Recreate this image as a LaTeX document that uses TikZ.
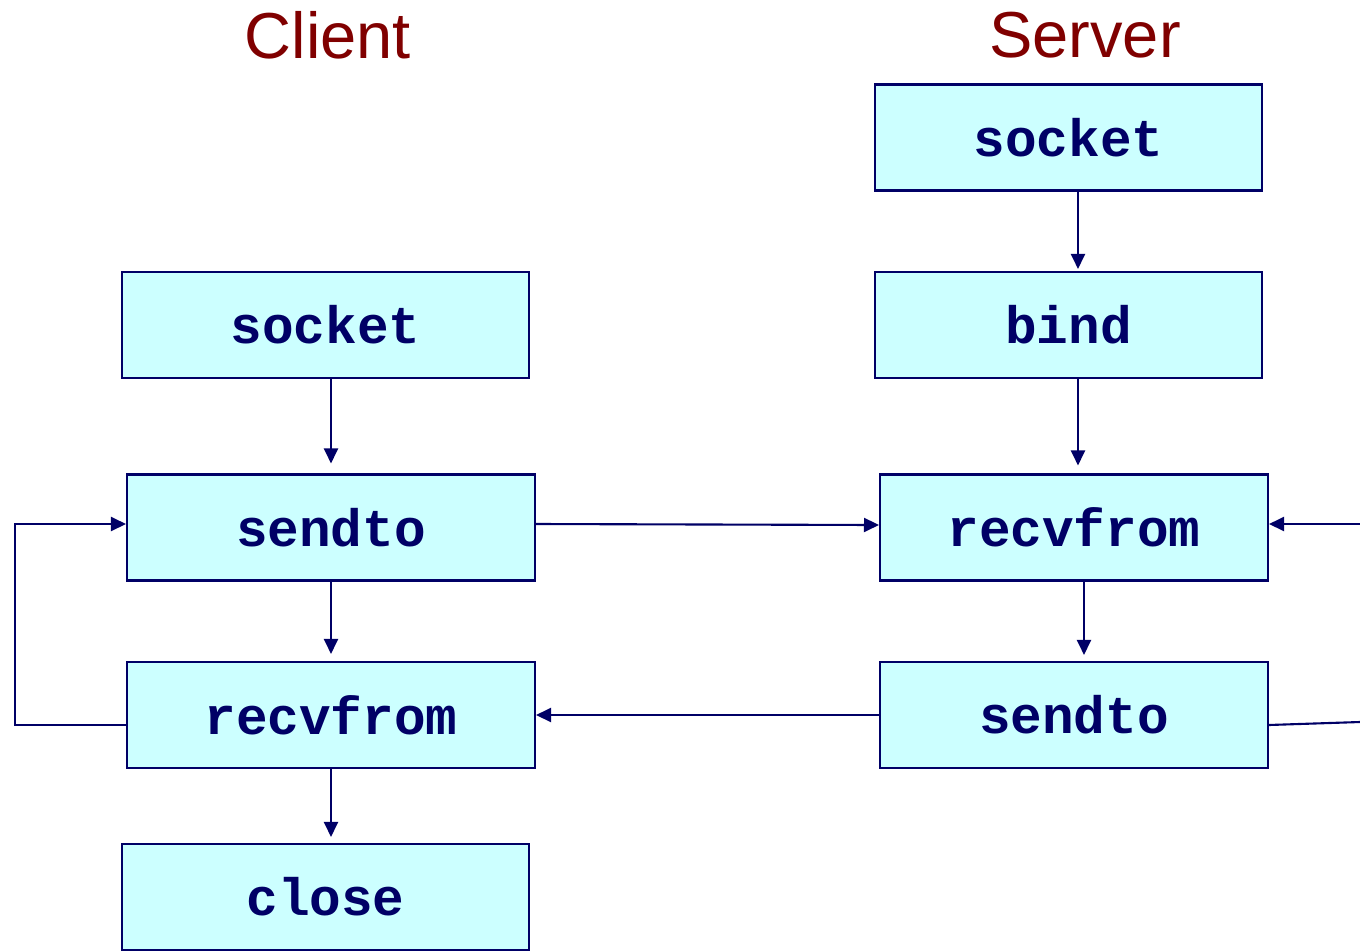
\documentclass[tikz,border=0pt]{standalone}
\usepackage{fontspec}
\setmainfont{Liberation Sans}
\newfontfamily\codefont{Liberation Mono}
\usetikzlibrary{arrows.meta}
\definecolor{navy}{RGB}{0,0,102}
\definecolor{boxfill}{RGB}{204,255,255}
\definecolor{darkred}{RGB}{128,0,0}
\tikzset{
  blk/.style={draw=navy, fill=boxfill, line width=1.2pt, minimum height=2.12cm,
    text=navy, font=\codefont\bfseries\fontsize{30}{30}\selectfont},
  title/.style={text=darkred, font=\fontsize{37}{37}\selectfont},
  link/.style={draw=navy, line width=1.2pt, -{Triangle[length=0.3cm,width=0.28cm]}},
  wire/.style={draw=navy, line width=1.2pt}
}

\begin{document}
\begin{tikzpicture}[x=0.02cm,y=-0.02cm]
\useasboundingbox (0,0) rectangle (1360,951);
% titles
\node[title] (client) at (328,35) {Client};
\node[title] (server) at (1085,35) {Server};
% client side
\node[blk, minimum width=8.14cm] (csocket) at (325.5,325) {socket};
\node[blk, minimum width=8.16cm] (csendto) at (331,527.5) {sendto};
\node[blk, minimum width=8.16cm] (crecv) at (331,715) {recvfrom};
\node[blk, minimum width=8.14cm] (cclose) at (325.5,897) {close};
% server side
\node[blk, minimum width=7.74cm] (ssocket) at (1068.5,137.5) {socket};
\node[blk, minimum width=7.74cm] (sbind) at (1068.5,325) {bind};
\node[blk, minimum width=7.76cm] (srecv) at (1074,527.5) {recvfrom};
\node[blk, minimum width=7.76cm] (ssendto) at (1074,715) {sendto};
% free ends
\coordinate (loopl) at (15,0);
\coordinate (inr) at (1360,524);
\coordinate (outr) at (1360,722);
% client arrows
\draw[link, shorten >=0.2cm] (csocket.south -| 331,0) -- (csendto.north);
\draw[link, shorten >=0.14cm] (csendto) -- (crecv);
\draw[link, shorten >=0.12cm] (crecv) -- (cclose.north -| crecv);
\draw[link] ([yshift=-0.2cm]crecv.west) -- ([yshift=-0.2cm]crecv.west -| loopl)
  |- ([yshift=0.07cm]csendto.west);
% server arrows
\draw[link, shorten >=0.04cm] (ssocket.south -| 1078,0) -- (sbind.north -| 1078,0);
\draw[link, shorten >=0.16cm] (sbind.south -| 1078,0) -- (srecv.north -| 1078,0);
\draw[link, shorten >=0.12cm] (srecv.south -| 1084,0) -- (ssendto.north -| 1084,0);
% between the two
\draw[link] ([yshift=0.07cm]csendto.east) -- ([yshift=0.05cm]srecv.west);
\draw[link] (ssendto.west) -- (crecv.east);
\draw[link] (inr) -- (srecv.east |- inr);
\draw[wire] ([yshift=-0.2cm]ssendto.east) -- (outr);
\end{tikzpicture}
\end{document}
